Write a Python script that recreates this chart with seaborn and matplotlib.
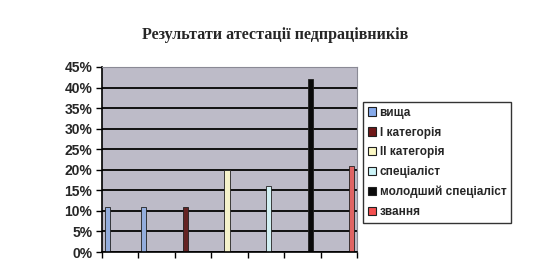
import matplotlib
matplotlib.use("Agg")
import matplotlib.pyplot as plt
import matplotlib.patches as mpatches
from matplotlib.ticker import PercentFormatter, MultipleLocator
import seaborn as sns
import pandas as pd
import numpy as np

title = "Результати атестації педпрацівників"
series = ["вища", "І категорія", "ІІ категорія", "спеціаліст", "молодший спеціаліст", "звання"]
colors = ["#86aaea", "#701818", "#fcf8c4", "#ccf4f8", "#0a0a0a", "#f45050"]
categories = ["1", "2", "3", "4", "5", "6", "7"]
# (category, series, value %)
cat_of_bar = ["1", "2", "3", "4", "5", "6", "7"]
series_of_bar = ["вища", "вища", "І категорія", "ІІ категорія", "спеціаліст", "молодший спеціаліст", "звання"]
values = [11, 11, 11, 20, 16, 42, 21]

rows = []
for c in categories:
    for s in series:
        v = np.nan
        for cb, sb, val in zip(cat_of_bar, series_of_bar, values):
            if cb == c and sb == s:
                v = val
        rows.append({"cat": c, "series": s, "val": v})
df = pd.DataFrame(rows)

sns.set_style("white")
plt.rcParams['font.family'] = ['Liberation Sans', 'DejaVu Sans']

fig = plt.figure(figsize=(5.35, 2.77), dpi=100)
fig.patch.set_facecolor("white")
ax = fig.add_axes([102/535, 1-252/277, (357-102)/535, (252-67)/277])
ax.set_facecolor("#bdbbc8")

sns.barplot(data=df, x="cat", y="val", hue="series", hue_order=series, order=categories,
            palette=colors, width=0.86, dodge=True, ax=ax, edgecolor="#202020",
            linewidth=0.6, legend=False, errorbar=None)

ax.set_ylim(0, 45)
ax.set_xlim(-0.5, len(categories) - 0.5)
ax.yaxis.set_major_locator(MultipleLocator(5))
ax.yaxis.set_major_formatter(PercentFormatter(decimals=0))
ax.grid(axis="y", color="#111111", linewidth=1.4)
ax.set_axisbelow(True)
ax.set_xlabel("")
ax.set_ylabel("")
ax.set_xticks(np.arange(-0.5, len(categories), 1.0))
ax.set_xticklabels([])
ax.tick_params(axis="x", length=4, width=1, color="black", direction="out", bottom=True)
ax.tick_params(axis="y", length=4, width=1, color="black", direction="out", left=True, pad=3)
for lab in ax.get_yticklabels():
    lab.set_fontweight("bold")
    lab.set_fontsize(10)
for side in ["left", "bottom"]:
    ax.spines[side].set_color("black")
    ax.spines[side].set_linewidth(1.2)
for side in ["top", "right"]:
    ax.spines[side].set_color("#8a8a95")
    ax.spines[side].set_linewidth(0.8)

fig.text(275/535, 1-35/277, title, ha="center", va="center",
         family=["Liberation Serif", "DejaVu Serif"], fontweight="bold", fontsize=11.5)

handles = [mpatches.Patch(facecolor=c, edgecolor="#202020", linewidth=0.8, label=s)
           for s, c in zip(series, colors)]
leg = fig.legend(handles=handles, loc="upper left", bbox_to_anchor=(363/535, 1-102/277),
                 frameon=True, fancybox=False, edgecolor="black", fontsize=8.5,
                 handlelength=0.7, handleheight=0.7, handletextpad=0.3,
                 labelspacing=0.66, borderpad=0.4, borderaxespad=0)
leg.get_frame().set_linewidth(1.0)
for t in leg.get_texts():
    t.set_fontweight("bold")

fig.savefig("out.png", dpi=100)
